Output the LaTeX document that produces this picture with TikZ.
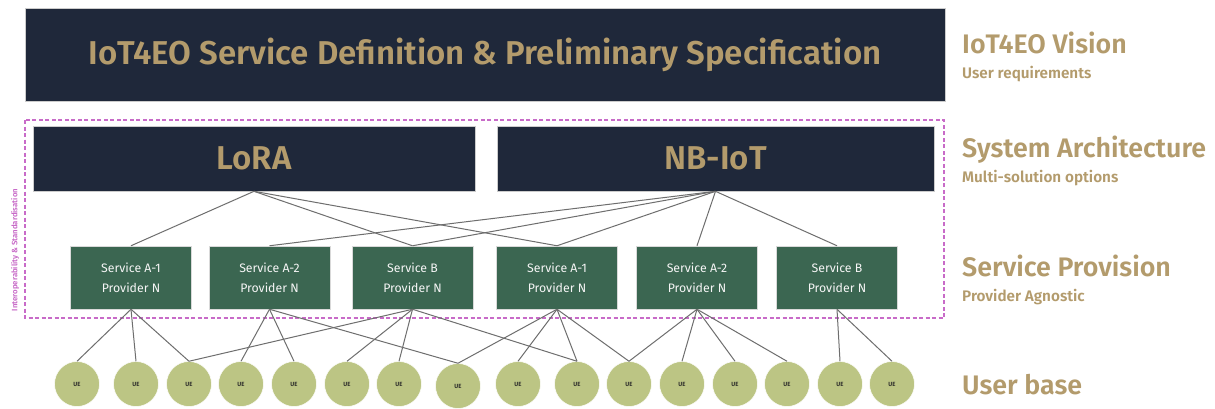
\documentclass[tikz,border=0pt]{standalone}
\usepackage{fontspec}
\setmainfont{Fira Sans}[BoldFont={Fira Sans SemiBold}]
\definecolor{navy}{HTML}{1F283A}
\definecolor{gold}{HTML}{B39B6C}
\definecolor{svcgreen}{HTML}{3B6651}
\definecolor{olive}{HTML}{BCC584}
\definecolor{mag}{HTML}{C86BC8}
\definecolor{linkgray}{HTML}{6E6E6E}
\tikzset{
  bigbox/.style={fill=navy, draw=gray!40, line width=0.6pt, text=gold, inner sep=0pt, font=\bfseries},
  svc/.style={fill=svcgreen, draw=gray!30, line width=0.5pt, minimum width=121pt, minimum height=63pt, inner sep=0pt, text=white!92!gray, align=center, font=\fontsize{12.3}{20}\selectfont},
  ue/.style={circle, fill=olive, draw=white, line width=0.5pt, minimum size=45pt, inner sep=0pt, font=\fontsize{6}{6}\selectfont\bfseries, text=black!85},
  link/.style={draw=linkgray, line width=1pt},
  lbig/.style={anchor=mid west, text=gold, font=\fontsize{26.8}{30}\selectfont\bfseries, inner sep=0pt},
  lsmall/.style={anchor=mid west, text=gold, font=\fontsize{15.3}{17}\selectfont\bfseries, inner sep=0pt}
}
\begin{document}
\begin{tikzpicture}[x=1pt, y=-1pt]
\useasboundingbox[fill=white] (0,0) rectangle (1215,408);
% top
\node[bigbox, minimum width=920pt, minimum height=93pt, font=\fontsize{33}{36}\selectfont\bfseries] (top) at (485,54.5) {IoT4EO Service Definition \& Preliminary Specification};
% dashed frame
\draw[mag, dashed, line width=1.1pt, dash pattern=on 4pt off 2.5pt] (25,120) rectangle (944,318);
\node[rotate=90, text=mag, font=\fontsize{7.8}{8}\selectfont\bfseries, inner sep=0pt] (interop) at (15,250) {Interoperability \& Standardisation};
% architecture
\node[bigbox, minimum width=442pt, minimum height=65pt, font=\fontsize{33}{36}\selectfont\bfseries] (lora) at (254,158.5) {LoRA};
\node[bigbox, minimum width=437pt, minimum height=65pt, font=\fontsize{33}{36}\selectfont\bfseries] (nb) at (715.5,158.5) {NB-IoT};
% services
\node[svc] (s1) at (131,277.5) {Service A-1\\Provider N};
\node[svc] (s2) at (269.5,277.5) {Service A-2\\Provider N};
\node[svc] (s3) at (412.5,277.5) {Service B\\Provider N};
\node[svc] (s4) at (557,277.5) {Service A-1\\Provider N};
\node[svc] (s5) at (697,277.5) {Service A-2\\Provider N};
\node[svc] (s6) at (837,277.5) {Service B\\Provider N};
% UEs
\foreach \i/\x/\y in {1/77/384, 2/136/384, 3/189/384, 4/241/384, 5/294/384, 6/347/384, 7/399/384, 8/458/386, 9/518/384, 10/577/384, 11/629/384, 12/682/384, 13/735/384, 14/787/384, 15/840/384, 16/892/384}
  \node[ue] (u\i) at (\x,\y) {UE};
% links architecture -> services
\foreach \a/\b in {lora/s1, lora/s3, lora/s4, nb/s2, nb/s3, nb/s4, nb/s5, nb/s6}
  \draw[link] (\a.south) -- (\b.north);
% links services -> UEs
\foreach \a/\b in {s1/u1, s1/u2, s1/u3, s2/u4, s2/u5, s2/u8, s3/u3, s3/u6, s3/u7, s3/u10, s4/u8, s4/u9, s4/u10, s4/u11, s5/u11, s5/u12, s5/u13, s5/u14, s6/u15, s6/u16}
  \draw[link] (\a.south) -- (\b.north);
% right labels
\node[lbig] (l1) at (962,51) {IoT4EO Vision};
\node[lsmall] (l1s) at (962,76) {User requirements};
\node[lbig] (l2) at (962,155) {System Architecture};
\node[lsmall] (l2s) at (962,180) {Multi-solution options};
\node[lbig] (l3) at (962,274) {Service Provision};
\node[lsmall] (l3s) at (962,299) {Provider Agnostic};
\node[lbig] (l4) at (962,392) {User base};
\end{tikzpicture}
\end{document}
